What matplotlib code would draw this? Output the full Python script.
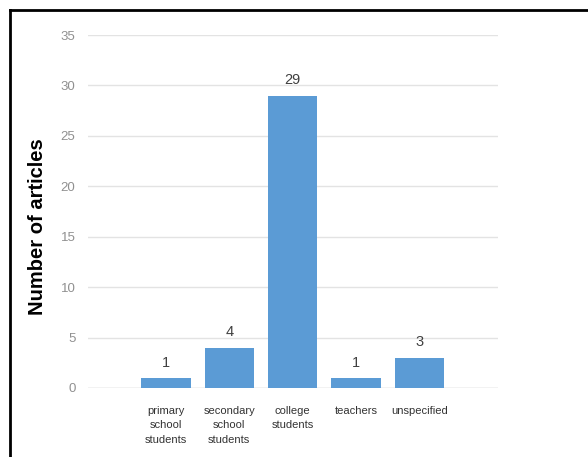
import numpy as np
import matplotlib.pyplot as plt
from matplotlib.lines import Line2D

# 数据
categories = ['primary\nschool\nstudents', 'secondary\nschool\nstudents',
              'college\nstudents', 'teachers', 'unspecified']
counts = [1, 4, 29, 1, 3]
yticks = [0, 5, 10, 15, 20, 25, 30, 35]

plt.rcParams['font.family'] = ['Liberation Sans', 'DejaVu Sans']

fig = plt.figure(figsize=(5.88, 4.57), dpi=100)
ax = fig.add_axes([88 / 588, 69 / 457, 410 / 588, 353 / 457])

x = np.arange(len(categories))
bars = ax.bar(x, counts, width=0.78, color='#5b9bd5', zorder=3)

# 数值标签
for b, v in zip(bars, counts):
    ax.annotate(str(v), (b.get_x() + b.get_width() / 2, b.get_height()),
                xytext=(0, 6), textcoords='offset points',
                ha='center', va='bottom', fontsize=10.5, color='#404040')

ax.set_xlim(-1.23, 5.24)
ax.set_ylim(0, 35)
ax.set_yticks(yticks)
ax.yaxis.grid(True, color='#e3e3e3', linewidth=1, zorder=0)
ax.axhline(0, color='#d9d9d9', linewidth=1, zorder=2)
for s in ax.spines.values():
    s.set_visible(False)

ax.set_xticks(x)
ax.set_xticklabels(categories, fontsize=8, color='#333333',
                   linespacing=1.55)
ax.tick_params(axis='x', length=0, pad=13)
ax.tick_params(axis='y', length=0, pad=9, labelsize=9.5, labelcolor='#909090')

ax.set_ylabel('Number of articles', fontsize=14.5, fontweight='bold',
              color='black')
ax.yaxis.set_label_coords(-0.1, 0.456)

# 外框（左、上）
fig.add_artist(Line2D([10 / 588, 10 / 588], [0, 1 - 10 / 457],
                      transform=fig.transFigure, color='black', linewidth=2))
fig.add_artist(Line2D([10 / 588, 1], [1 - 10 / 457, 1 - 10 / 457],
                      transform=fig.transFigure, color='black', linewidth=2))

fig.savefig('out.png', dpi=100)
